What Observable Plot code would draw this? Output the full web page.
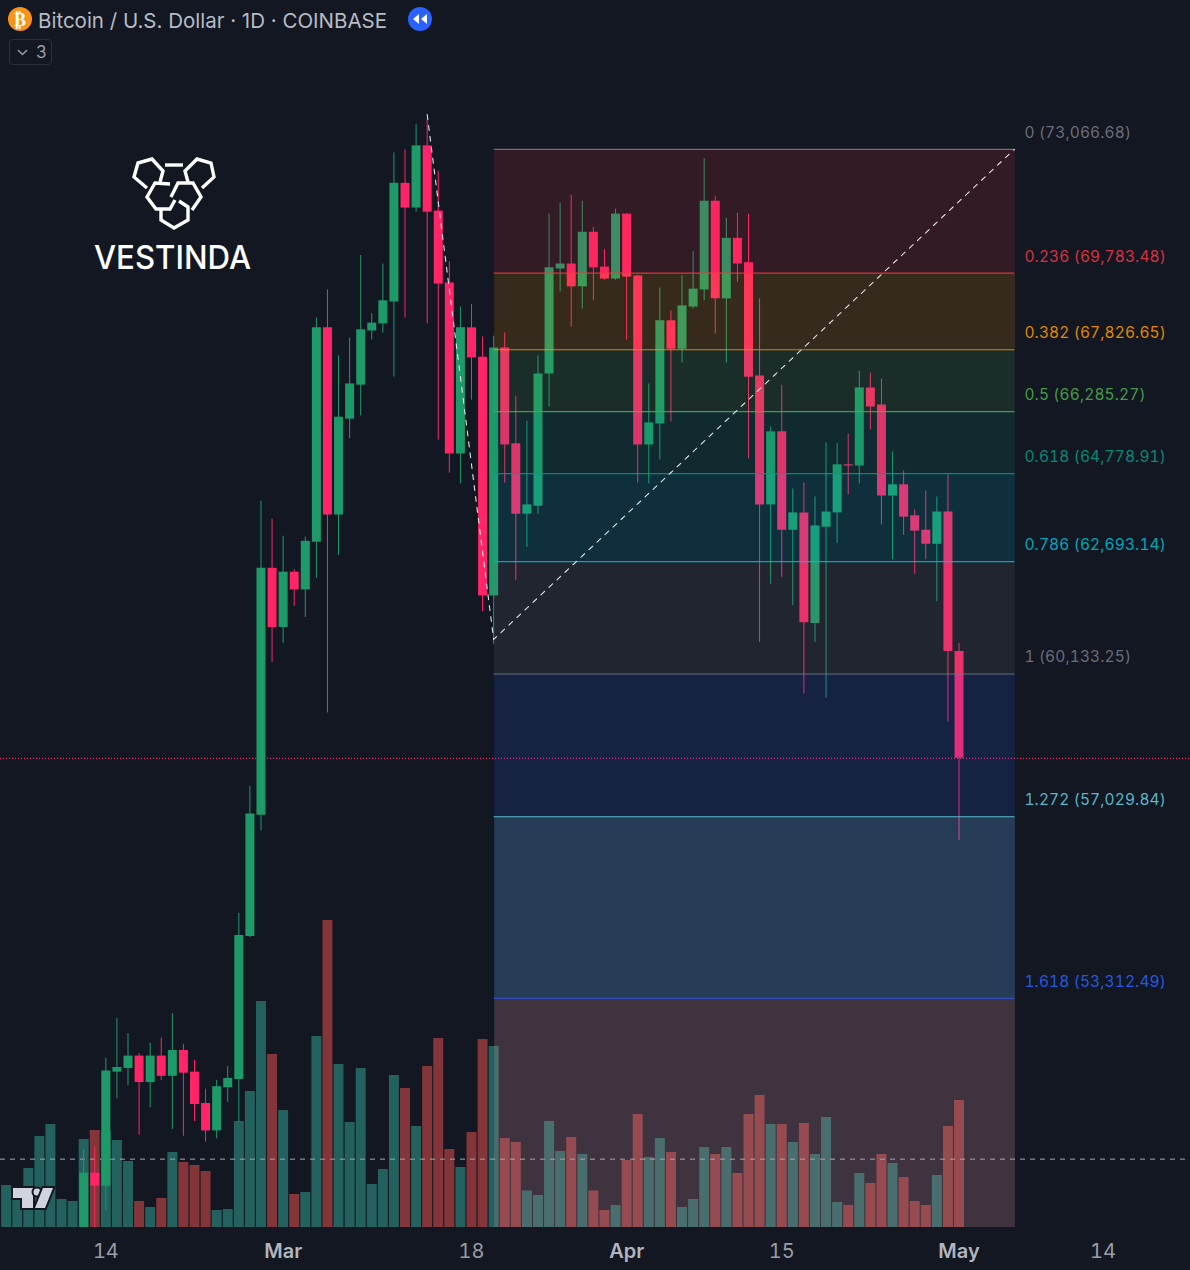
<!DOCTYPE html>
<html>
<head>
<meta charset="utf-8">
<script src="https://cdn.jsdelivr.net/npm/d3@7"></script>
<script src="https://cdn.jsdelivr.net/npm/@observablehq/plot@0.6"></script>
<style>
  html, body { margin: 0; padding: 0; background: #121722; }
  #stage { position: relative; width: 1190px; height: 1270px; overflow: hidden; font-family: Inter, sans-serif; }
  #stage > svg, #stage > div { position: absolute; left: 0; top: 0; }
  #title { left: 38px !important; top: 8px !important; font-size: 20.5px; line-height: 26px; color: #b8bbc4; white-space: nowrap; }
  #badge { left: 9px !important; top: 39px !important; width: 41px; height: 24px; border: 1px solid #2a2e39; border-radius: 4px; color: #9a9da6; font-size: 17px; line-height: 24px; }
  #badge span { position: absolute; left: 26px; top: 0; }
  .fib-label { letter-spacing: 0.13px; font-variant-numeric: tabular-nums; }
</style>
</head>
<body>
<div id="stage"></div>
<script>
// ---- Data -----------------------------------------------------------------
const candleStart = "2024-02-12";
const opens = [
  48730,49960,49720,51870,51940,52180,51670,52180,51790,52290,51870,51270,50750,51570,51730,54550,57060,62540,
  61180,62450,62040,63150,68380,63790,66100,66940,68300,68480,69040,72150,71490,73160,71410,69530,65250,68380,67640,61900,67870,65500,63810,64000,67220,69890,70020,69430,70850,69940,69630,
  71330,69710,65470,65980,68560,67840,68910,69350,71670,69120,70690,70050,67170,64030,65790,63430,63840,61270,63500,63840,64990,64960,66870,66450,64240,64510,63770,63430,63100,63860,
  60640];
const highs = [
  50390,50450,52140,52910,52620,52230,52430,52530,53010,52410,52100,51540,51710,51980,55020,57680,64120,63690,
  63290,62510,63270,68630,69350,67670,68120,70240,68740,70020,72970,73050,73740,73880,72470,70080,68910,68970,68150,68170,68250,66670,66050,67670,71330,71620,71830,71670,70980,70400,71460,
  71350,69730,66970,69400,68810,69710,70340,72810,71800,71220,71350,71330,69120,65910,66940,64410,64550,64220,65520,65500,65740,67290,67240,67090,65300,64840,63910,64360,64220,64740,
  60820];
const lows = [
  48640,48640,49270,51360,51610,50670,51190,51710,50780,50650,50930,50540,50600,51290,50910,54530,56730,60390,
  60820,61660,61410,62310,59270,62840,65620,66180,68070,68250,67140,68630,71380,68480,65590,64790,64530,66570,61540,60800,64550,62260,63030,63810,66400,69300,68400,68860,69070,69600,69600,
  68070,64550,64530,65110,66030,67490,68860,69070,68220,67490,69550,65130,60840,62170,62330,61680,59690,60840,59600,63120,64270,64530,65840,63550,62740,63310,62400,62740,61770,59070,
  56530];
const closes = [
  49960,49720,51890,51960,52180,51670,52180,51790,52290,51850,51250,50750,51590,51750,54570,57090,62540,61180,
  62450,62040,63170,68380,63790,66150,66970,68330,68500,69070,72150,71490,73160,71380,69500,65250,68380,67620,61900,67870,65470,63810,64030,67220,69920,70020,69430,70850,69920,69630,71330,
  69680,65470,66010,68560,67840,68940,69370,71670,69120,70690,70020,67140,64030,65790,63430,63840,61290,63530,63860,64990,64960,66870,66400,64240,64510,63740,63410,63100,63860,60640,
  58280];

const volumeStart = "2024-02-05";
const volumes = [
  6300,4200,8850,13650,15450,4200,3900,
  13200,14550,14400,13050,9900,3900,3000,
  4350,11250,9750,9300,8400,2550,2700,
  15900,20400,33900,25950,17550,4950,5250,
  28650,46050,24450,15750,23850,6450,8700,
  22800,20850,15150,24150,28350,11700,9000,
  14250,28200,27150,13350,12750,5475,4800,
  15900,11400,13500,10950,5475,2550,3300,
  10050,16950,10500,13350,11250,3000,4200,
  12000,10950,12000,8100,16950,19800,15450,
  15450,12750,15600,10950,16500,3750,3300,
  8100,6600,10950,9600,7500,3900,3300,
  7800,15150,19050];
const volumeSides = [
  "uuuuuuu","uduuudu","duddduu","uuududu","uduuuuu","ududddu","ddudduu",
  "uududdu","dduuduu","ududddu","duduuud","udduddd","udd"
].join("");

const volumeAverage = 10250;
const lastClose = 58277;

const fibRatios = ["0","0.236","0.382","0.5","0.618","0.786","1","1.272","1.618"];
const fibPrices = [73066.68,69783.48,67826.65,66285.27,64778.91,62693.14,60133.25,57029.84,53312.49];
const fibColors = ["#787b86","#f23645","#ff9800","#4caf50","#089981","#00bcd4","#787b86","#62cfe0","#2962ff"];
const fibFills  = ["rgba(242,54,69,.15)","rgba(255,152,0,.15)","rgba(76,175,80,.15)","rgba(8,153,129,.15)","rgba(0,188,212,.15)","rgba(120,123,134,.15)","rgba(41,98,255,.15)","rgba(98,168,242,.25)","rgba(218,155,170,.22)"];
const fibStart = "2024-03-20";
const fibEnd = "2024-05-06";

const trendDates = ["2024-03-14","2024-03-20","2024-05-06"];
const trendPrices = [74016,60911,73066.68];

const plainTicks = ["2024-02-14","2024-03-18","2024-04-15","2024-05-14"];
const monthTicks = ["2024-03-01","2024-04-01","2024-05-01"];

// ---- Scales ---------------------------------------------------------------
const xDomain = [new Date("2024-02-04T11:48:00Z"), new Date("2024-05-21T21:24:00Z")];
const priceDomain = [48963, 77217];
const volumeDomain = [0, 184050];
const up = "#1e9a69", down = "#ff2566";
const volUp = "#22615e", volDown = "#833539";
const base = {width: 1190, height: 1270, marginTop: 0, marginBottom: 43, marginLeft: 0, marginRight: 0};
const day = s => new Date(s + "T00:00:00Z");

const candles = opens.map((o, i) => ({
  date: d3.utcDay.offset(day(candleStart), i),
  open: o, high: highs[i], low: lows[i], close: closes[i]
}));
const vols = volumes.map((v, i) => ({
  date: d3.utcDay.offset(day(volumeStart), i),
  volume: v, side: volumeSides[i]
}));
const bandBottoms = fibPrices.slice(1).concat(priceDomain[0]);
const bands = fibPrices.map((p, i) => ({top: p, bottom: bandBottoms[i], fill: fibFills[i]}));
const levels = fibPrices.map((p, i) => ({
  price: p, color: fibColors[i],
  label: fibRatios[i] + " (" + d3.format(",.2f")(p) + ")"
}));
const trend = trendDates.map((d, i) => ({date: day(d), price: trendPrices[i]}));

// ---- Volume pane (bottom layer) -------------------------------------------
const volumePlot = Plot.plot({
  ...base,
  style: {background: "#121722"},
  x: {type: "utc", domain: xDomain, axis: null},
  y: {domain: volumeDomain, axis: null},
  marks: [
    Plot.ruleX(vols, {x: "date", y1: 0, y2: "volume", strokeWidth: 10,
      stroke: d => d.side === "u" ? volUp : volDown}),
    Plot.ruleY([volumeAverage], {stroke: "#a4a7b0", strokeWidth: 1, strokeDasharray: "5,5"})
  ]
});

// ---- Price pane (top layer) -----------------------------------------------
const pricePlot = Plot.plot({
  ...base,
  style: {background: "transparent", fontFamily: "Inter, sans-serif"},
  x: {type: "utc", domain: xDomain, axis: null},
  y: {type: "log", domain: priceDomain, axis: null},
  marks: [
    Plot.ruleY([lastClose], {stroke: "#ff2566", strokeWidth: 1.2, strokeDasharray: "1,2"}),
    Plot.ruleX(candles, {x: "date", y1: "low", y2: "high", strokeWidth: 1, clip: true,
      stroke: d => d.close >= d.open ? up : down}),
    Plot.ruleX(candles, {x: "date", y1: "open", y2: "close", strokeWidth: 9, clip: true,
      stroke: d => d.close >= d.open ? up : down}),
    Plot.rect(bands, {x1: () => day(fibStart), x2: () => day(fibEnd), y1: "bottom", y2: "top", fill: "fill", dx: 1}),
    Plot.ruleY(levels, {x1: () => day(fibStart), x2: () => day(fibEnd), y: "price", stroke: "color", strokeWidth: 1.2, strokeOpacity: 0.85, dx: 0.5}),
    Plot.line(trend, {x: "date", y: "price", stroke: "#e0e3eb", strokeWidth: 1.1, strokeDasharray: "5,6"}),
    Plot.text(levels, {x: () => day(fibEnd), y: "price", text: "label", fill: "color", fillOpacity: 0.88,
      dx: 10, dy: -16.5, textAnchor: "start", fontSize: 15.5, className: "fib-label"}),
    Plot.axisX({ticks: plainTicks.map(day), tickFormat: d3.utcFormat("%-d"), tickSize: 0, tickPadding: 16,
      fontSize: 20, fill: "#9a9da6", label: null}),
    Plot.axisX({ticks: monthTicks.map(day), tickFormat: d3.utcFormat("%b"), tickSize: 0, tickPadding: 16,
      fontSize: 20, fontWeight: 600, fill: "#b2b5be", label: null})
  ]
});

// ---- Overlay furniture ----------------------------------------------------
const stage = document.getElementById("stage");
stage.append(volumePlot, pricePlot);

const title = document.createElement("div");
title.id = "title";
title.textContent = "Bitcoin / U.S. Dollar · 1D · COINBASE";
stage.append(title);

const badge = document.createElement("div");
badge.id = "badge";
badge.innerHTML = '<svg width="14" height="24" style="position:absolute;left:6px;top:0"><path d="M2 10 L6.5 14.5 L11 10" fill="none" stroke="#9a9da6" stroke-width="1.5"/></svg><span>3</span>';
stage.append(badge);

const NS = "http://www.w3.org/2000/svg";
const furniture = document.createElementNS(NS, "svg");
furniture.setAttribute("width", 1190);
furniture.setAttribute("height", 1270);
furniture.innerHTML = `
  <circle cx="20" cy="19" r="12" fill="#f7931a"/>
  <text x="20" y="25.5" text-anchor="middle" font-size="18" font-weight="700" fill="#fff" font-family="DejaVu Sans">₿</text>
  <circle cx="420" cy="19" r="12" fill="#2962ff"/>
  <path d="M419 14 L413 19 L419 24 Z M427 14 L421 19 L427 24 Z" fill="#fff"/>
  <g fill="none" stroke="#fff" stroke-width="3.4">
    <polyline points="147,188 134,177 138,163 152,159 163,171 160,182"/>
    <polyline points="165,165 183,165"/>
    <polyline points="202,188 214,177 211,163 197,159 185,171 188,182"/>
    <polyline points="170,184 155,183 147,197 156,209 170,209 175,200"/>
    <polyline points="171,197 178,183 193,183 201,197 192,210"/>
    <polyline points="179,201 188,207 188,220 174,228 161,220 161,208"/>
  </g>
  <text x="94" y="269" font-size="33" font-weight="500" fill="#fff" font-family="Inter" textLength="157" lengthAdjust="spacingAndGlyphs">VESTINDA</text>
  <g fill="#d1d4dc" stroke="#131722" stroke-width="4" paint-order="stroke">
    <path d="M13 1188 H33 V1208 H22 V1198 H13 Z"/>
    <circle cx="37" cy="1192" r="3.5"/>
    <path d="M43 1188 H53 L45 1208 H35 Z"/>
  </g>`;
stage.append(furniture);
</script>
</body>
</html>
